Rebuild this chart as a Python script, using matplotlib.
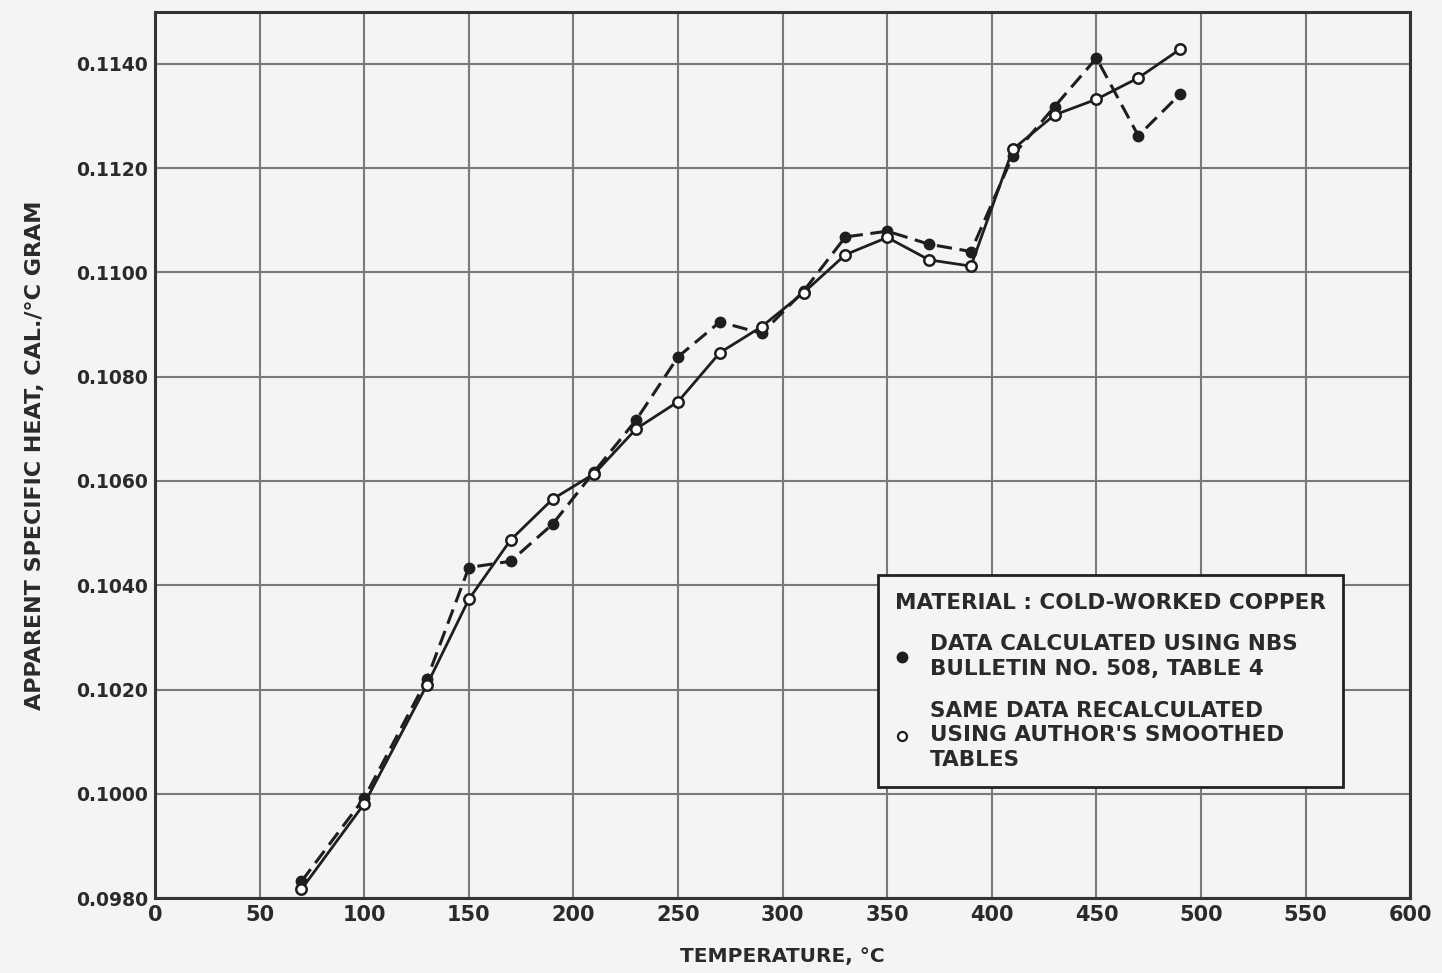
import matplotlib
matplotlib.use("Agg")
import matplotlib.pyplot as plt
from matplotlib.lines import Line2D

# Apparent specific heat of cold-worked copper vs temperature
temperature = [70, 100, 130, 150, 170, 190, 210, 230, 250, 270, 290,
               310, 330, 350, 370, 390, 410, 430, 450, 470, 490]
nbs_data = [0.09832, 0.09992, 0.10220, 0.10434, 0.10446, 0.10517, 0.10618,
            0.10717, 0.10838, 0.10905, 0.10883, 0.10964, 0.11068, 0.11079,
            0.11054, 0.11040, 0.11224, 0.11318, 0.11411, 0.11262, 0.11342]
smoothed_data = [0.09817, 0.09981, 0.10209, 0.10373, 0.10487, 0.10565, 0.10614,
                 0.10700, 0.10752, 0.10846, 0.10896, 0.10961, 0.11034, 0.11067,
                 0.11024, 0.11012, 0.11236, 0.11302, 0.11332, 0.11373, 0.11428]

x_ticks = list(range(0, 601, 50))
y_ticks = [0.0980, 0.1000, 0.1020, 0.1040, 0.1060, 0.1080, 0.1100, 0.1120, 0.1140]

bg = "#f4f4f4"
ink = "#1e1e1e"
fig = plt.figure(figsize=(14.42, 9.73), dpi=100, facecolor=bg)
ax = fig.add_axes([0.1075, 0.077, 0.8705, 0.911], facecolor=bg)

ax.plot(temperature, nbs_data, color=ink, linewidth=2.2, linestyle=(0, (5, 2.5)),
        marker="o", markersize=7.5, markerfacecolor=ink, markeredgecolor=ink, zorder=3)
ax.plot(temperature, smoothed_data, color=ink, linewidth=2.0, linestyle="-",
        marker="o", markersize=7.5, markerfacecolor="white", markeredgecolor=ink,
        markeredgewidth=1.8, zorder=4)

ax.set_xlim(0, 600)
ax.set_ylim(0.0980, 0.1150)
ax.set_xticks(x_ticks)
ax.set_yticks(y_ticks)
ax.set_xticklabels([str(t) for t in x_ticks], fontsize=15, fontweight="bold")
ax.set_yticklabels(["%.4f" % v for v in y_ticks], fontsize=13.5, fontweight="bold")
ax.tick_params(length=0, pad=5, colors="#2a2a2a")
ax.grid(True, color="#7a7a7a", linewidth=1.5)
ax.set_axisbelow(True)
for s in ax.spines.values():
    s.set_linewidth(2.2)
    s.set_color("#333333")

ax.set_xlabel("TEMPERATURE, °C", fontsize=14.5, fontweight="bold", labelpad=16, color="#2a2a2a")
ax.set_ylabel("APPARENT SPECIFIC HEAT, CAL./°C GRAM", fontsize=16, fontweight="bold",
              labelpad=22, color="#2a2a2a")

handles = [
    Line2D([], [], linestyle="none", marker="o", markersize=7.5,
           markerfacecolor=ink, markeredgecolor=ink),
    Line2D([], [], linestyle="none", marker="o", markersize=6.5,
           markerfacecolor="white", markeredgecolor=ink, markeredgewidth=1.6),
]
labels = ["DATA CALCULATED USING NBS\nBULLETIN NO. 508, TABLE 4",
          "SAME DATA RECALCULATED\nUSING AUTHOR'S SMOOTHED\nTABLES"]
leg = ax.legend(handles, labels, title="MATERIAL : COLD-WORKED COPPER",
                loc="upper left", bbox_to_anchor=(0.576, 0.364), borderaxespad=0,
                prop={"size": 15.5, "weight": "bold"},
                frameon=True, fancybox=False,
                framealpha=1, facecolor=bg, edgecolor="#222222",
                handlelength=0.6, handletextpad=1.0, labelspacing=1.0,
                borderpad=0.8, alignment="left")
leg.get_title().set_fontsize(15.5)
leg.get_title().set_fontweight("bold")
leg.get_frame().set_linewidth(2)
for t in leg.get_texts():
    t.set_color("#2a2a2a")
    t.set_linespacing(1.3)
leg.get_title().set_color("#2a2a2a")

fig.savefig("out.png", dpi=100, facecolor=bg)
